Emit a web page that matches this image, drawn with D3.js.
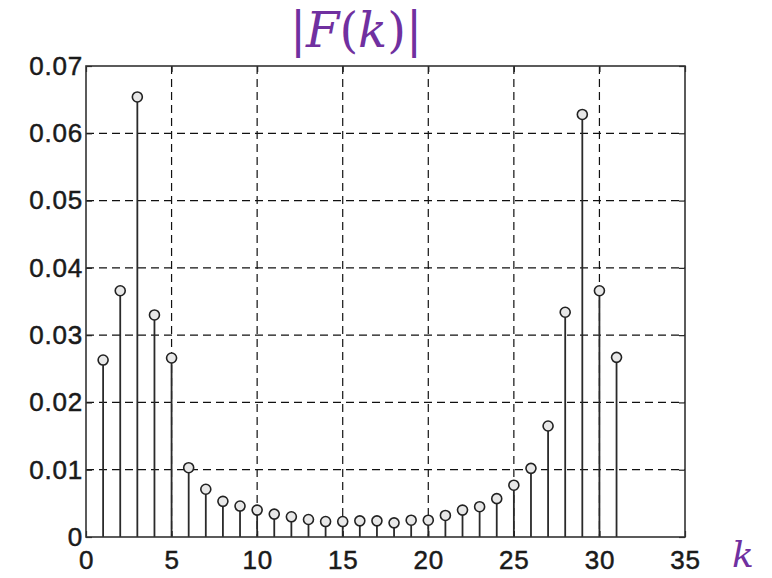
<!DOCTYPE html>
<html><head><meta charset="utf-8">
<script src="https://cdn.jsdelivr.net/npm/d3@7"></script>
<style>html,body{margin:0;padding:0;background:#fff;}</style>
</head><body>
<svg id="c" width="772" height="578"></svg>
<script>
const ks = [1,2,3,4,5,6,7,8,9,10,11,12,13,14,15,16,17,18,19,20,21,22,23,24,25,26,27,28,29,30,31];
const mags = [0.0263,0.0366,0.0654,0.0330,0.0266,0.0103,0.0071,0.0053,0.0046,0.0040,0.0034,0.0030,0.0026,0.0023,0.0023,0.0024,0.0024,0.0021,0.0025,0.0025,0.0032,0.0040,0.0045,0.0057,0.0077,0.0102,0.0165,0.0334,0.0628,0.0366,0.0267];
const xTicks = [0,5,10,15,20,25,30,35];
const yTicks = [0,0.01,0.02,0.03,0.04,0.05,0.06,0.07];
const yTickLabels = ["0","0.01","0.02","0.03","0.04","0.05","0.06","0.07"];

const svg = d3.select("#c");
const x = d3.scaleLinear().domain([0,35]).range([86,685]);
const y = d3.scaleLinear().domain([0,0.07]).range([537,66]);
const L=86,R=685,T=66,B=537;

// grid
const g = svg.append("g");
g.selectAll(".gx").data(xTicks.slice(1,-1)).enter().append("line")
  .attr("x1",d=>x(d)).attr("x2",d=>x(d)).attr("y1",T).attr("y2",B)
  .attr("stroke","#111").attr("stroke-width",1.2).attr("stroke-dasharray","8,5");
g.selectAll(".gy").data(yTicks.slice(1,-1)).enter().append("line")
  .attr("y1",d=>y(d)).attr("y2",d=>y(d)).attr("x1",L).attr("x2",R)
  .attr("stroke","#111").attr("stroke-width",1.2).attr("stroke-dasharray","8,5");

// stems
svg.selectAll(".stem").data(ks).enter().append("line")
  .attr("x1",d=>x(d)).attr("x2",d=>x(d)).attr("y1",B).attr("y2",(d,i)=>y(mags[i])+5)
  .attr("stroke","#2a2a2a").attr("stroke-width",1.8);
svg.selectAll(".mk").data(ks).enter().append("circle")
  .attr("cx",d=>x(d)).attr("cy",(d,i)=>y(mags[i])).attr("r",5)
  .attr("fill","#e8e8e8").attr("stroke","#222").attr("stroke-width",1.6);

// axes with inward ticks
const ax = svg.append("g").attr("transform",`translate(0,${B})`)
  .call(d3.axisBottom(x).tickValues(xTicks).tickSize(-6).tickPadding(14).tickFormat(d3.format("d")));
const ay = svg.append("g").attr("transform",`translate(${L},0)`)
  .call(d3.axisLeft(y).tickValues(yTicks).tickSize(-6).tickPadding(3).tickFormat((d,i)=>yTickLabels[i]));
svg.append("g").attr("transform",`translate(0,${T})`)
  .call(d3.axisTop(x).tickValues(xTicks).tickSize(-6).tickFormat(""));
svg.append("g").attr("transform",`translate(${R},0)`)
  .call(d3.axisRight(y).tickValues(yTicks).tickSize(-6).tickFormat(""));
svg.selectAll(".domain").remove();
svg.selectAll(".tick line").attr("stroke","#222").attr("stroke-width",1.2);
svg.selectAll(".tick text").attr("fill","#1a1a1a").attr("stroke","#1a1a1a").attr("stroke-width",0.5)
  .style("font-family","'Liberation Sans', Arial, sans-serif").style("font-size","26px")
  .style("letter-spacing","0.8px");
ax.selectAll(".tick text").attr("dy","0.71em");

// frame
svg.append("rect").attr("x",L).attr("y",T).attr("width",R-L).attr("height",B-T)
  .attr("fill","none").attr("stroke","#333").attr("stroke-width",1.6);

// title
const t = svg.append("text").attr("x",356).attr("y",47).attr("text-anchor","middle")
  .attr("fill","#7030A0").style("font-family","'DejaVu Serif', serif").style("font-size","48px");
t.append("tspan").text("|");
t.append("tspan").style("font-style","italic").text("F");
t.append("tspan").text("(");
t.append("tspan").style("font-style","italic").text("k");
t.append("tspan").text(")|");

svg.append("text").attr("x",743).attr("y",567).attr("text-anchor","middle")
  .attr("fill","#7030A0").style("font-family","'DejaVu Serif', serif").style("font-size","36px")
  .style("font-style","italic").text("k");
</script>
</body></html>
